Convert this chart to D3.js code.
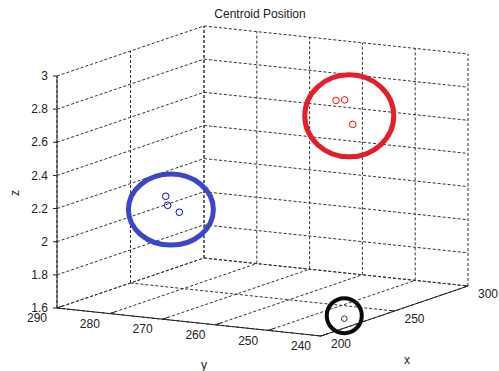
<!DOCTYPE html>
<html>
<head>
<meta charset="utf-8">
<script src="https://cdn.jsdelivr.net/npm/d3@7"></script>
<style>
  body { margin: 0; background: #fff; }
  text { font-family: "Liberation Sans", Arial, sans-serif; fill: #222; font-size: 12px; }
</style>
</head>
<body>
<div id="chart"></div>
<script>
// tick values
const xTicks = [200, 250, 300];
const yTicks = [290, 280, 270, 260, 250, 240];
const zTicks = [1.6, 1.8, 2, 2.2, 2.4, 2.6, 2.8, 3];

// centroid positions
const redX = [253.3, 255.6, 257.5];
const redY = [252, 251, 250];
const redZ = [2.82, 2.82, 2.67];

const blueX = [223.7, 217.8, 229.3];
const blueY = [276, 274, 275];
const blueZ = [2.25, 2.22, 2.14];

const blackX = [230.2];
const blackY = [244];
const blackZ = [1.6];

const width = 499, height = 371;

// projection: each data axis becomes a 2d screen offset
const origin = [57, 308];            // (x=200, y=290, z=1.6)
const xpx = d3.scaleLinear().domain([200, 300]).range([0, 147]);
const xpy = d3.scaleLinear().domain([200, 300]).range([0, -50]);
const ypx = d3.scaleLinear().domain([290, 240]).range([0, 264]);
const ypy = d3.scaleLinear().domain([290, 240]).range([0, 28]);
const zpy = d3.scaleLinear().domain([1.6, 3]).range([0, -232]);

function proj(x, y, z) {
  return [origin[0] + xpx(x) + ypx(y), origin[1] + xpy(x) + ypy(y) + zpy(z)];
}

const svg = d3.select('#chart').append('svg')
  .attr('width', width)
  .attr('height', height);

svg.append('rect').attr('width', width).attr('height', height).attr('fill', '#fff');

const xmin = 200, xmax = 300, ymin = 240, ymax = 290, zmin = 1.6, zmax = 3;

function seg(g, a, b) {
  g.append('line')
    .attr('x1', a[0]).attr('y1', a[1])
    .attr('x2', b[0]).attr('y2', b[1]);
}

// grid
const grid = svg.append('g')
  .attr('stroke', '#333')
  .attr('stroke-width', 1)
  .attr('stroke-dasharray', '3,2')
  .attr('fill', 'none');

// left back wall (y = 290)
xTicks.forEach(x => seg(grid, proj(x, ymax, zmin), proj(x, ymax, zmax)));
zTicks.forEach(z => seg(grid, proj(xmin, ymax, z), proj(xmax, ymax, z)));
// right back wall (x = 300)
yTicks.forEach(y => seg(grid, proj(xmax, y, zmin), proj(xmax, y, zmax)));
zTicks.forEach(z => seg(grid, proj(xmax, ymax, z), proj(xmax, ymin, z)));
// floor
xTicks.forEach(x => seg(grid, proj(x, ymax, zmin), proj(x, ymin, zmin)));
yTicks.forEach(y => seg(grid, proj(xmin, y, zmin), proj(xmax, y, zmin)));

// axis lines
const axes = svg.append('g').attr('stroke', '#222').attr('stroke-width', 1);
seg(axes, proj(xmin, ymax, zmin), proj(xmin, ymax, zmax));   // z
seg(axes, proj(xmin, ymax, zmin), proj(xmin, ymin, zmin));   // y
seg(axes, proj(xmin, ymin, zmin), proj(xmax, ymin, zmin));   // x

// ticks
zTicks.forEach(z => {
  const p = proj(xmin, ymax, z);
  seg(axes, [p[0] - 4, p[1]], p);
  svg.append('text')
    .attr('x', p[0] - 9).attr('y', p[1]).attr('dy', '0.35em')
    .attr('text-anchor', 'end')
    .text(d3.format('')(z));
});
yTicks.forEach(y => {
  const p = proj(xmin, y, zmin);
  const q = proj(xmin + 4, y, zmin);
  seg(axes, p, q);
  svg.append('text')
    .attr('x', p[0] - 20).attr('y', p[1] + 10).attr('dy', '0.35em')
    .attr('text-anchor', 'middle')
    .text(y);
});
xTicks.forEach(x => {
  const p = proj(x, ymin, zmin);
  const q = proj(x, ymin + 1, zmin);
  seg(axes, p, q);
  svg.append('text')
    .attr('x', p[0] + 20).attr('y', p[1] + 8).attr('dy', '0.35em')
    .attr('text-anchor', 'middle')
    .text(x);
});

// axis labels and title
svg.append('text').attr('x', 204).attr('y', 365).attr('dy', '0.35em')
  .attr('text-anchor', 'middle').text('y');
svg.append('text').attr('x', 407).attr('y', 360).attr('dy', '0.35em')
  .attr('text-anchor', 'middle').text('x');
svg.append('text').attr('transform', 'translate(15,193) rotate(-90)').attr('dy', '0.35em')
  .attr('text-anchor', 'middle').text('z');
svg.append('text').attr('x', 260).attr('y', 18)
  .attr('text-anchor', 'middle').text('Centroid Position');

// markers
function cluster(xs, ys, zs, color, r) {
  const pts = xs.map((x, i) => proj(x, ys[i], zs[i]));
  svg.append('g').selectAll('circle')
    .data(pts).enter().append('circle')
    .attr('cx', d => d[0]).attr('cy', d => d[1])
    .attr('r', r)
    .attr('fill', 'none')
    .attr('stroke', color)
    .attr('stroke-width', 1);
  return [d3.mean(pts, d => d[0]), d3.mean(pts, d => d[1])];
}

const redC = cluster(redX, redY, redZ, '#ff0000', 3.3);
const blueC = cluster(blueX, blueY, blueZ, '#0000ff', 3.3);
const blackC = cluster(blackX, blackY, blackZ, '#333', 2.8);

// hand drawn highlight rings round each cluster
function ring(c, dx, dy, rx, ry, color, sw) {
  svg.append('ellipse')
    .attr('cx', c[0] + dx).attr('cy', c[1] + dy)
    .attr('rx', rx).attr('ry', ry)
    .attr('fill', 'none')
    .attr('stroke', color)
    .attr('stroke-width', sw);
}
ring(redC, 4.8, 7.6, 44.5, 41, '#e41e2b', 5);
ring(blueC, 0, 5, 42.5, 35.5, '#3c46c8', 5);
ring(blackC, 0, -3, 17.5, 17.5, '#0a0a0a', 4);
</script>
</body>
</html>
